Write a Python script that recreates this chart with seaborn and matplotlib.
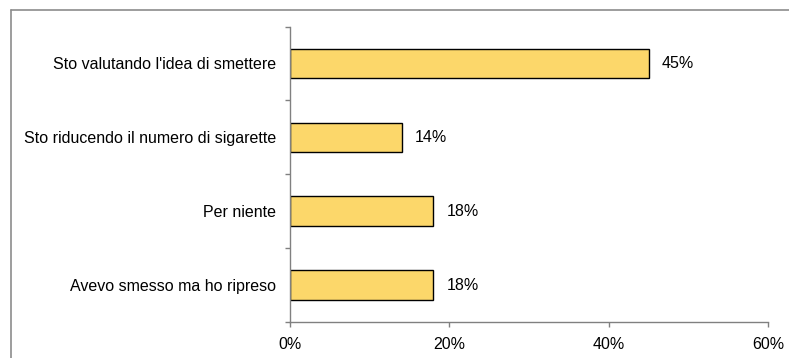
import matplotlib
matplotlib.use("Agg")
import matplotlib.pyplot as plt
import seaborn as sns
import pandas as pd
from matplotlib.lines import Line2D

categories = [
    "Sto valutando l'idea di smettere",
    "Sto riducendo il numero di sigarette",
    "Per niente",
    "Avevo smesso ma ho ripreso",
]
values = [45, 14, 18, 18]
labels = ["45%", "14%", "18%", "18%"]
xticks = [0, 20, 40, 60]
xticklabels = ["0%", "20%", "40%", "60%"]

df = pd.DataFrame({"cat": categories, "val": values})

sns.set_theme(style="white")
plt.rcParams["font.family"] = ["Liberation Sans", "DejaVu Sans"]
plt.rcParams["text.color"] = "black"
plt.rcParams["xtick.color"] = "black"
plt.rcParams["ytick.color"] = "black"

W, H = 789, 358
fig = plt.figure(figsize=(W / 100, H / 100), dpi=100)
ax = fig.add_axes([290 / W, 1 - 322 / H, (768 - 290) / W, (322 - 26.5) / H])

sns.barplot(data=df, x="val", y="cat", orient="h", color="#FCD76A",
            edgecolor="black", linewidth=1.0, width=0.4, saturation=1, ax=ax)

fs = 11.5
ax.set_xlim(0, 60)
ax.set_ylim(3.5, -0.5)
ax.set_xticks(xticks)
ax.set_xticklabels(xticklabels, fontsize=fs)
ax.set_yticks(range(len(categories)))
ax.set_yticklabels(categories, fontsize=fs)
ax.set_xlabel("")
ax.set_ylabel("")

# category boundary ticks on the category axis
ax.set_yticks([i + 0.5 for i in range(-1, len(categories))], minor=True)
ax.tick_params(axis="y", which="major", length=0, pad=10)
ax.tick_params(axis="y", which="minor", length=3.5, width=1, color="#808080", left=True)
ax.tick_params(axis="x", which="major", length=3.5, width=1, color="#808080",
               bottom=True, pad=7)

for s in ["top", "right"]:
    ax.spines[s].set_visible(False)
for s in ["left", "bottom"]:
    ax.spines[s].set_color("#808080")
    ax.spines[s].set_linewidth(1)

for i, (v, t) in enumerate(zip(values, labels)):
    ax.text(v + 1.7, i, t, va="center", ha="left", fontsize=fs, color="black")

# frame around the chart area (left and top edges)
x0, y0 = 10.5 / W, 1 - 9.5 / H
fig.add_artist(Line2D([x0, x0], [y0, 0], transform=fig.transFigure,
                      color="#8c8c8c", linewidth=1.2))
fig.add_artist(Line2D([x0, 1], [y0, y0], transform=fig.transFigure,
                      color="#8c8c8c", linewidth=1.2))

fig.savefig("out.png", dpi=100)
